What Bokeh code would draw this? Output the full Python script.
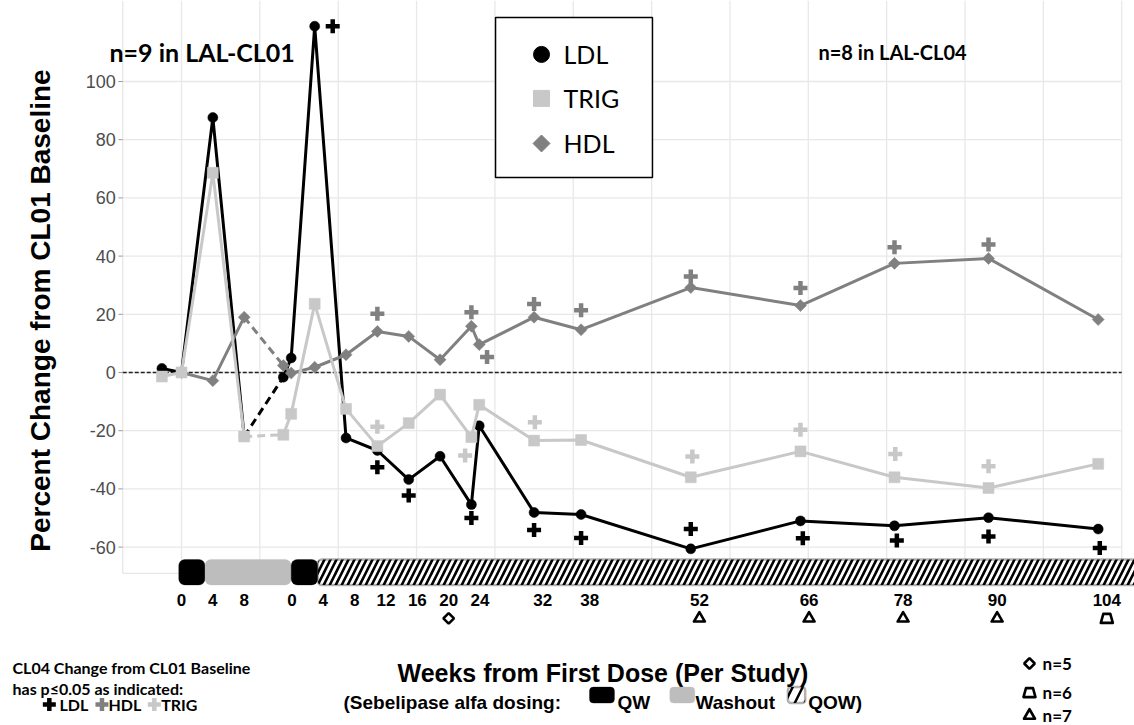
import math
from bokeh.plotting import figure
from bokeh.models import Range1d, BoxAnnotation
from bokeh.core.properties import value
from bokeh.embed import file_html
from bokeh.resources import INLINE

NAN = float("nan")

# ---------------- data ----------------
CL01_WEEKS = [-2.5, 0, 4, 8]
CL04_WEEKS = [0, 1, 4, 8, 12, 16, 20, 24, 25, 32, 38, 52, 66, 78, 90, 104]

LDL_CL01 = [1.4, 0.0, 87.6, -22.0]
TRIG_CL01 = [-1.4, 0.0, 68.6, -22.0]
HDL_CL01 = [NAN, 0.0, -2.8, 19.0]

LDL_CL04 = [-1.6, 5.0, 119.0, -22.5, -26.8, -36.8, -28.8, -45.4, -18.3,
            -48.1, -48.8, -60.6, -51.0, -52.7, -49.9, -53.8]
TRIG_CL04 = [-21.4, -14.2, 23.6, -12.5, -25.3, -17.4, -7.6, -22.2, -11.1,
             -23.4, -23.2, -36.0, -27.1, -36.0, -39.7, -31.4]
HDL_CL04 = [2.4, -0.2, 1.8, 6.1, 14.1, 12.4, 4.4, 15.9, 9.6,
            19.0, 14.7, 29.2, 23.0, 37.5, 39.2, 18.2]

# p<=0.05 flags: CL04 week where the "+" sits and its height
LDL_SIG_WEEKS = [6.3, 12, 16, 24, 32, 38, 52, 66.3, 78.3, 90, 104.2]
LDL_SIG_Y = [119.0, -32.6, -42.3, -50.0, -54.1, -56.9, -53.8, -57.0, -57.7, -56.4, -60.3]
HDL_SIG_WEEKS = [12, 24, 26, 32, 38, 52, 66, 78, 90]
HDL_SIG_Y = [20.2, 20.7, 5.3, 23.5, 21.4, 33.0, 29.0, 43.0, 44.0]
TRIG_SIG_WEEKS = [12, 23.2, 32.1, 52.2, 66, 78.1, 90]
TRIG_SIG_Y = [-18.6, -28.5, -17.1, -28.9, -19.7, -28.0, -32.2]

# tick labels (weeks per study)
CL01_TICKS = [0, 4, 8]
CL04_TICKS = [0, 4, 8, 12, 16, 20, 24, 32, 38, 52, 66, 78, 90, 104]
Y_TICKS = [-60, -40, -20, 0, 20, 40, 60, 80, 100]

# sample size flags under the week labels
N_FLAG_WEEKS = [20, 52, 66, 78, 90, 104]
N_FLAG_KIND = ["n=5", "n=7", "n=7", "n=7", "n=7", "n=6"]

# dosing schedule on the shared axis
DOSE_PHASE = ["QW", "Washout", "QW", "QOW"]
DOSE_START = [-0.35, 3.0, 14.0, 17.4]
DOSE_END = [3.0, 14.0, 17.4, 125.0]

CL04_OFFSET = 13        # axis position of CL04 week 0
LABEL_SHIFT = 1.1       # CL04 week labels sit slightly right of their points

# ---------------- styles ----------------
C_LDL, C_HDL, C_TRIG = "#000000", "#808080", "#c8c8c8"
C_WASH = "#bdbdbd"
C_GRID = "#e8e8e8"
ARIAL = value("Liberation Sans")
CALIBRI = value("Lato")

W, H = 1134, 725
X0, X1 = -23.101, 121.633
Y0, Y1 = -121.306, 127.835
PX_X = W / (X1 - X0)
PX_Y = H / (Y1 - Y0)

PANEL_L, PANEL_R, PANEL_B = -7.5, 120.0, -69.0
BAR_TOP, BAR_BOT = -64.26, -73.0

p = figure(width=W, height=H, x_range=Range1d(X0, X1), y_range=Range1d(Y0, Y1),
           output_backend="svg", toolbar_location=None,
           x_axis_type=None, y_axis_type=None, title=None)
p.min_border_left = p.min_border_right = p.min_border_top = p.min_border_bottom = 0
p.outline_line_color = None
p.background_fill_color = "white"
p.border_fill_color = "white"


def pos04(weeks):
    return [w + CL04_OFFSET for w in weeks]


# ---------------- panel grid ----------------
vx = [PANEL_L] + list(range(0, 121, 10))
p.segment(x0=vx, y0=[PANEL_B] * len(vx), x1=vx, y1=[Y1] * len(vx),
          line_color=C_GRID, line_width=1.3)
hy = Y_TICKS + [PANEL_B]
p.segment(x0=[PANEL_L] * len(hy), y0=hy, x1=[PANEL_R] * len(hy), y1=hy,
          line_color=C_GRID, line_width=1.3)
p.line([PANEL_L, PANEL_R], [0, 0], line_color="#222222", line_width=1.5, line_dash="4 2")

# y tick marks and labels
p.segment(x0=[PANEL_L - 0.55] * len(Y_TICKS), y0=Y_TICKS, x1=[PANEL_L] * len(Y_TICKS),
          y1=Y_TICKS, line_color="#9a9a9a", line_width=1)
p.text(x=[PANEL_L - 0.9] * len(Y_TICKS), y=Y_TICKS, text=[str(t) for t in Y_TICKS],
       text_font=ARIAL, text_font_size="18px", text_color="#4d4d4d",
       text_align="right", text_baseline="middle")
p.text(x=[-18.0], y=[21.3], text=["Percent Change from CL01 Baseline"], angle=math.pi / 2,
       text_font=ARIAL, text_font_style="bold", text_font_size="28px",
       text_color="black", text_align="center", text_baseline="middle")

# ---------------- series ----------------
series = [
    ("LDL", LDL_CL01, LDL_CL04, C_LDL, dict(marker="circle", size=10, angle=0)),
    ("HDL", HDL_CL01, HDL_CL04, C_HDL, dict(marker="square", size=8.5, angle=math.pi / 4)),
    ("TRIG", TRIG_CL01, TRIG_CL04, C_TRIG, dict(marker="square", size=11, angle=0)),
]
x04 = pos04(CL04_WEEKS)
for name, v01, v04, col, mk in series:
    p.line(CL01_WEEKS, v01, line_color=col, line_width=3)
    p.line([CL01_WEEKS[-1], x04[0]], [v01[-1], v04[0]], line_color=col,
           line_width=3, line_dash="8 5")
    p.line(x04, v04, line_color=col, line_width=3)
    p.scatter(CL01_WEEKS + x04, v01 + v04, fill_color=col, line_color=col,
              line_width=0.5, **mk)

for wk, ys, col in [(LDL_SIG_WEEKS, LDL_SIG_Y, C_LDL),
                    (HDL_SIG_WEEKS, HDL_SIG_Y, C_HDL),
                    (TRIG_SIG_WEEKS, TRIG_SIG_Y, C_TRIG)]:
    p.scatter(pos04(wk), ys, marker="cross", size=14, line_color=col, line_width=4.5)


def hatched_box(left, right, top, bottom, scale, weight, radius):
    p.add_layout(BoxAnnotation(left=left, right=right, top=top, bottom=bottom,
                               fill_color="white", fill_alpha=1, line_color=None,
                               border_radius=radius, hatch_pattern="/",
                               hatch_color="black", hatch_scale=scale,
                               hatch_weight=weight))
    p.add_layout(BoxAnnotation(left=left, right=right, top=top, bottom=bottom,
                               fill_alpha=0, line_color="black", line_width=2.5,
                               border_radius=radius))


# ---------------- dosing bar ----------------
for phase, a, b in zip(DOSE_PHASE, DOSE_START, DOSE_END):
    if phase == "QW":
        p.add_layout(BoxAnnotation(left=a, right=b, top=BAR_TOP, bottom=BAR_BOT,
                                   fill_color="black", fill_alpha=1, line_color="black",
                                   line_width=1, border_radius=6))
    elif phase == "Washout":
        p.add_layout(BoxAnnotation(left=a, right=b, top=BAR_TOP, bottom=BAR_BOT,
                                   fill_color=C_WASH, fill_alpha=1, line_color=C_WASH,
                                   line_width=1, border_radius=6))
    else:
        hatched_box(a, b, BAR_TOP, BAR_BOT, 12, 2.6, 4)

# ---------------- x labels ----------------
xl = list(CL01_TICKS) + [w + CL04_OFFSET + LABEL_SHIFT for w in CL04_TICKS]
p.text(x=xl, y=[-78.2] * len(xl), text=[str(t) for t in CL01_TICKS + CL04_TICKS],
       text_font=ARIAL, text_font_style="bold", text_font_size="17px",
       text_color="black", text_align="center", text_baseline="middle")


def trapezoid(u, v, top_px, bot_px, h_px):
    xs = [u - top_px / 2 / PX_X, u + top_px / 2 / PX_X,
          u + bot_px / 2 / PX_X, u - bot_px / 2 / PX_X]
    ys = [v + h_px / 2 / PX_Y] * 2 + [v - h_px / 2 / PX_Y] * 2
    return xs, ys


def flag(u, v, kind):
    if kind == "n=5":
        p.scatter([u], [v], marker="square", angle=math.pi / 4, size=7.5,
                  fill_color="white", line_color="black", line_width=2.6)
    elif kind == "n=7":
        p.scatter([u], [v], marker="triangle", size=11, fill_color="white",
                  line_color="black", line_width=2.6, line_join="round")
    else:
        xs, ys = trapezoid(u, v, 7, 12, 9)
        p.patch(xs, ys, fill_color="white", line_color="black", line_width=2.6,
                line_join="round")


FLAG_Y = -84.5
for wk, kind in zip(N_FLAG_WEEKS, N_FLAG_KIND):
    flag(wk + CL04_OFFSET + LABEL_SHIFT, FLAG_Y, kind)

# ---------------- in-plot texts ----------------
p.text(x=[-9.19], y=[110.0], text=["n=9 in LAL-CL01"], text_font=CALIBRI,
       text_font_style="bold", text_font_size="25px", text_color="black",
       text_align="left", text_baseline="alphabetic")
p.text(x=[81.3], y=[110.3], text=["n=8 in LAL-CL04"], text_font=CALIBRI,
       text_font_style="bold", text_font_size="20px", text_color="black",
       text_align="left", text_baseline="alphabetic")

# legend box
p.quad(left=[40.08], right=[60.11], top=[122.0], bottom=[67.0],
       fill_color="white", line_color="black", line_width=1.5)
LEG_X, LEG_TX = 45.95, 48.76
LEG_Y = [109.3, 94.2, 78.7]
p.scatter([LEG_X], [LEG_Y[0]], marker="circle", size=16, fill_color=C_LDL, line_color=C_LDL)
p.scatter([LEG_X], [LEG_Y[1]], marker="square", size=16, fill_color=C_TRIG, line_color=C_TRIG)
p.scatter([LEG_X], [LEG_Y[2]], marker="square", angle=math.pi / 4, size=12,
          fill_color=C_HDL, line_color=C_HDL)
p.text(x=[LEG_TX] * 3, y=LEG_Y, text=["LDL", "TRIG", "HDL"], text_font=CALIBRI,
       text_font_size="25px", text_color="black", text_align="left",
       text_baseline="middle")

# ---------------- bottom texts ----------------
p.text(x=[27.57], y=[-103.4], text=["Weeks from First Dose (Per Study)"], text_font=ARIAL,
       text_font_style="bold", text_font_size="25px", text_color="black",
       text_align="left", text_baseline="alphabetic")
p.text(x=[20.68], y=[-113.3], text=["(Sebelipase alfa dosing:"], text_font=ARIAL,
       text_font_style="bold", text_font_size="19px", text_color="black",
       text_align="left", text_baseline="alphabetic")
KEY_T, KEY_B = -108.1, -113.6
p.add_layout(BoxAnnotation(left=52.07, right=55.26, top=KEY_T, bottom=KEY_B,
                           fill_color="black", fill_alpha=1, line_color="black",
                           border_radius=4))
p.add_layout(BoxAnnotation(left=62.32, right=65.51, top=KEY_T, bottom=KEY_B,
                           fill_color=C_WASH, fill_alpha=1, line_color=C_WASH,
                           border_radius=4))
hatched_box(77.4, 79.6, KEY_T, KEY_B, 20, 2.5, 3)
p.text(x=[55.65, 65.6, 80.0], y=[-113.3] * 3, text=["QW", "Washout", "QOW)"],
       text_font=ARIAL, text_font_style="bold", text_font_size="19px",
       text_color="black", text_align="left", text_baseline="alphabetic")

p.text(x=[-21.57, -21.57], y=[-101.3, -108.6],
       text=["CL04 Change from CL01 Baseline", "has p\u22640.05 as indicated:"],
       text_font=CALIBRI, text_font_style="bold", text_font_size="16px",
       text_color="black", text_align="left", text_baseline="alphabetic")
p.scatter([-16.87], [-114.1], marker="cross", size=13, line_color=C_LDL, line_width=4.5)
p.scatter([-10.15], [-114.1], marker="cross", size=13, line_color=C_HDL, line_width=4.5)
p.scatter([-3.47], [-114.1], marker="cross", size=13, line_color=C_TRIG, line_width=4.5)
p.text(x=[-15.57, -9.32, -2.59], y=[-114.1] * 3, text=["LDL", "HDL", "TRIG"],
       text_font=CALIBRI, text_font_style="bold", text_font_size="16px",
       text_color="black", text_align="left", text_baseline="middle")

# n legend (bottom right)
NK_X = 108.23
NK_Y = [-100.0, -110.0, -117.9]
flag(NK_X, NK_Y[0], "n=5")
flag(NK_X, NK_Y[1], "n=6")
flag(NK_X, NK_Y[2], "n=7")
p.text(x=[109.9] * 3, y=NK_Y, text=["n=5", "n=6", "n=7"],
       text_font=CALIBRI, text_font_style="bold", text_font_size="17px",
       text_color="black", text_align="left", text_baseline="middle")

open("out.html", "w").write(file_html(p, INLINE))
